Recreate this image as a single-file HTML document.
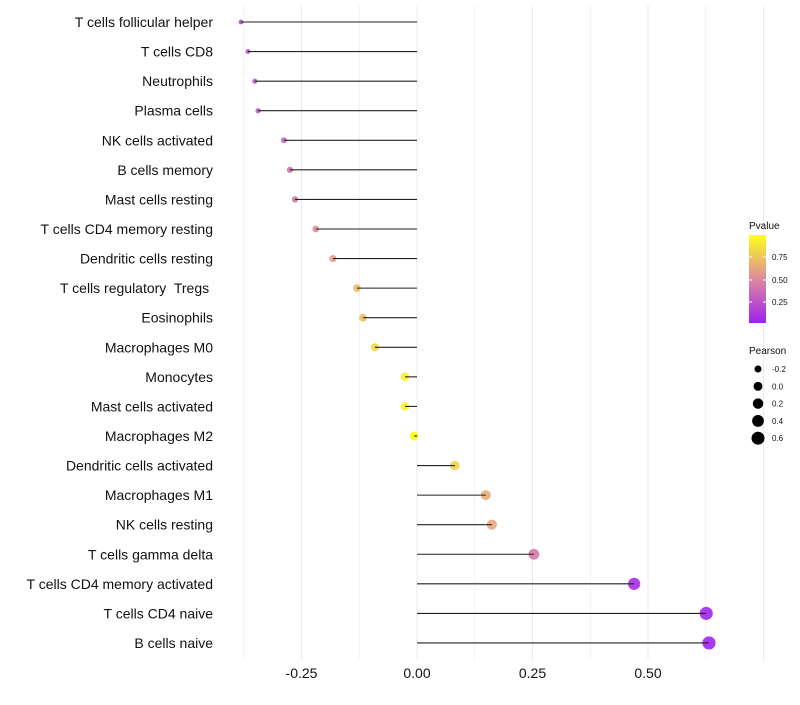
<!DOCTYPE html>
<html><head><meta charset="utf-8"><style>
body{margin:0;background:#fff;}
svg{font-family:"Liberation Sans",sans-serif;}
svg text{white-space:pre;}
</style></head><body>
<svg id="chart" width="800" height="700">
<defs><linearGradient id="pg" x1="0" y1="1" x2="0" y2="0">
<stop offset="0" stop-color="#a020f0"/><stop offset="0.5" stop-color="#dc8a9c"/><stop offset="1" stop-color="#ffff1a"/>
</linearGradient></defs>
<g id="grid"></g><g id="dots"></g><g id="marks"></g><g id="labels"></g><g id="legend"></g>
</svg>
<script>
const categories=["T cells follicular helper","T cells CD8","Neutrophils","Plasma cells","NK cells activated","B cells memory","Mast cells resting","T cells CD4 memory resting","Dendritic cells resting","T cells regulatory  Tregs ","Eosinophils","Macrophages M0","Monocytes","Mast cells activated","Macrophages M2","Dendritic cells activated","Macrophages M1","NK cells resting","T cells gamma delta","T cells CD4 memory activated","T cells CD4 naive","B cells naive"];
const pearson=[-0.381,-0.366,-0.351,-0.344,-0.288,-0.275,-0.264,-0.219,-0.182,-0.130,-0.117,-0.091,-0.026,-0.026,-0.006,0.082,0.149,0.162,0.253,0.470,0.626,0.632];
const pvalues=[0.2,0.22,0.25,0.27,0.36,0.39,0.42,0.52,0.6,0.72,0.74,0.82,0.94,0.94,0.99,0.82,0.65,0.63,0.42,0.06,0.02,0.02];
const xTicks=[-0.25,0,0.25,0.5];
const xTickLabels=["-0.25","0.00","0.25","0.50"];
const NS="http://www.w3.org/2000/svg";
const x=v=>417+v*462;
const y=i=>22+i*29.57;
const r=v=>Math.sqrt(Math.max(2,19.75+37.5*v));
function lerp(a,b,t){return a.map((c,i)=>Math.round(c+(b[i]-c)*t));}
function col(p){const s=[[160,32,240],[220,138,156],[255,255,26]];const t=p*2;
 const c=t<1?lerp(s[0],s[1],t):lerp(s[1],s[2],t-1);return `rgb(${c})`;}
function mk(tag,attrs,parent,text){const e=document.createElementNS(NS,tag);for(const k in attrs)e.setAttribute(k,attrs[k]);if(text!=null)e.textContent=text;parent.appendChild(e);return e;}
const grid=document.getElementById('grid'),dots=document.getElementById('dots'),marks=document.getElementById('marks'),labels=document.getElementById('labels'),legend=document.getElementById('legend');
for(let v=-0.375;v<=0.76;v+=0.125){const g=mk('line',{x1:x(v),x2:x(v),y1:5,y2:660,stroke:'#ebebeb','stroke-width':Math.abs(v/0.25-Math.round(v/0.25))<0.01?1:0.6},grid);
 }
xTicks.forEach((v,i)=>{const t=mk('text',{x:x(v),y:678,'text-anchor':'middle','font-size':14,fill:'#111'},labels,xTickLabels[i]);
 });
categories.forEach((c,i)=>{
 const t=mk('text',{x:213,y:y(i)+5,'text-anchor':'end','font-size':14,fill:'#111'},labels,c);
 
 const d=mk('circle',{cx:x(pearson[i]),cy:y(i),r:r(pearson[i]),fill:col(pvalues[i]),'fill-opacity':0.9},dots);
 
 const l=mk('line',{x1:x(0),x2:x(pearson[i]),y1:y(i),y2:y(i),stroke:'#222','stroke-width':1.1},marks);
 
});
let e=mk('text',{x:749,y:229,'font-size':10,fill:'#111'},legend,'Pvalue');

e=mk('rect',{x:749,y:235,width:17,height:88,fill:'url(#pg)'},legend);

[[0.75,257],[0.5,280],[0.25,302]].forEach(([v,yy])=>{
 mk('line',{x1:749,x2:752,y1:yy,y2:yy,stroke:'#fff'},legend);mk('line',{x1:763,x2:766,y1:yy,y2:yy,stroke:'#fff'},legend);
 const t=mk('text',{x:772,y:yy+3,'font-size':8,fill:'#111'},legend,v.toFixed(2));
 });
e=mk('text',{x:749,y:354,'font-size':10,fill:'#111'},legend,'Pearson');

[-0.2,0,0.2,0.4,0.6].forEach((v,i)=>{const yy=369+i*17.3;
 const c=mk('circle',{cx:758,cy:yy,r:r(v),fill:'#000'},legend);
 
 const t=mk('text',{x:772,y:yy+3,'font-size':8,fill:'#111'},legend,v.toFixed(1));
 });
</script>
</body></html>
